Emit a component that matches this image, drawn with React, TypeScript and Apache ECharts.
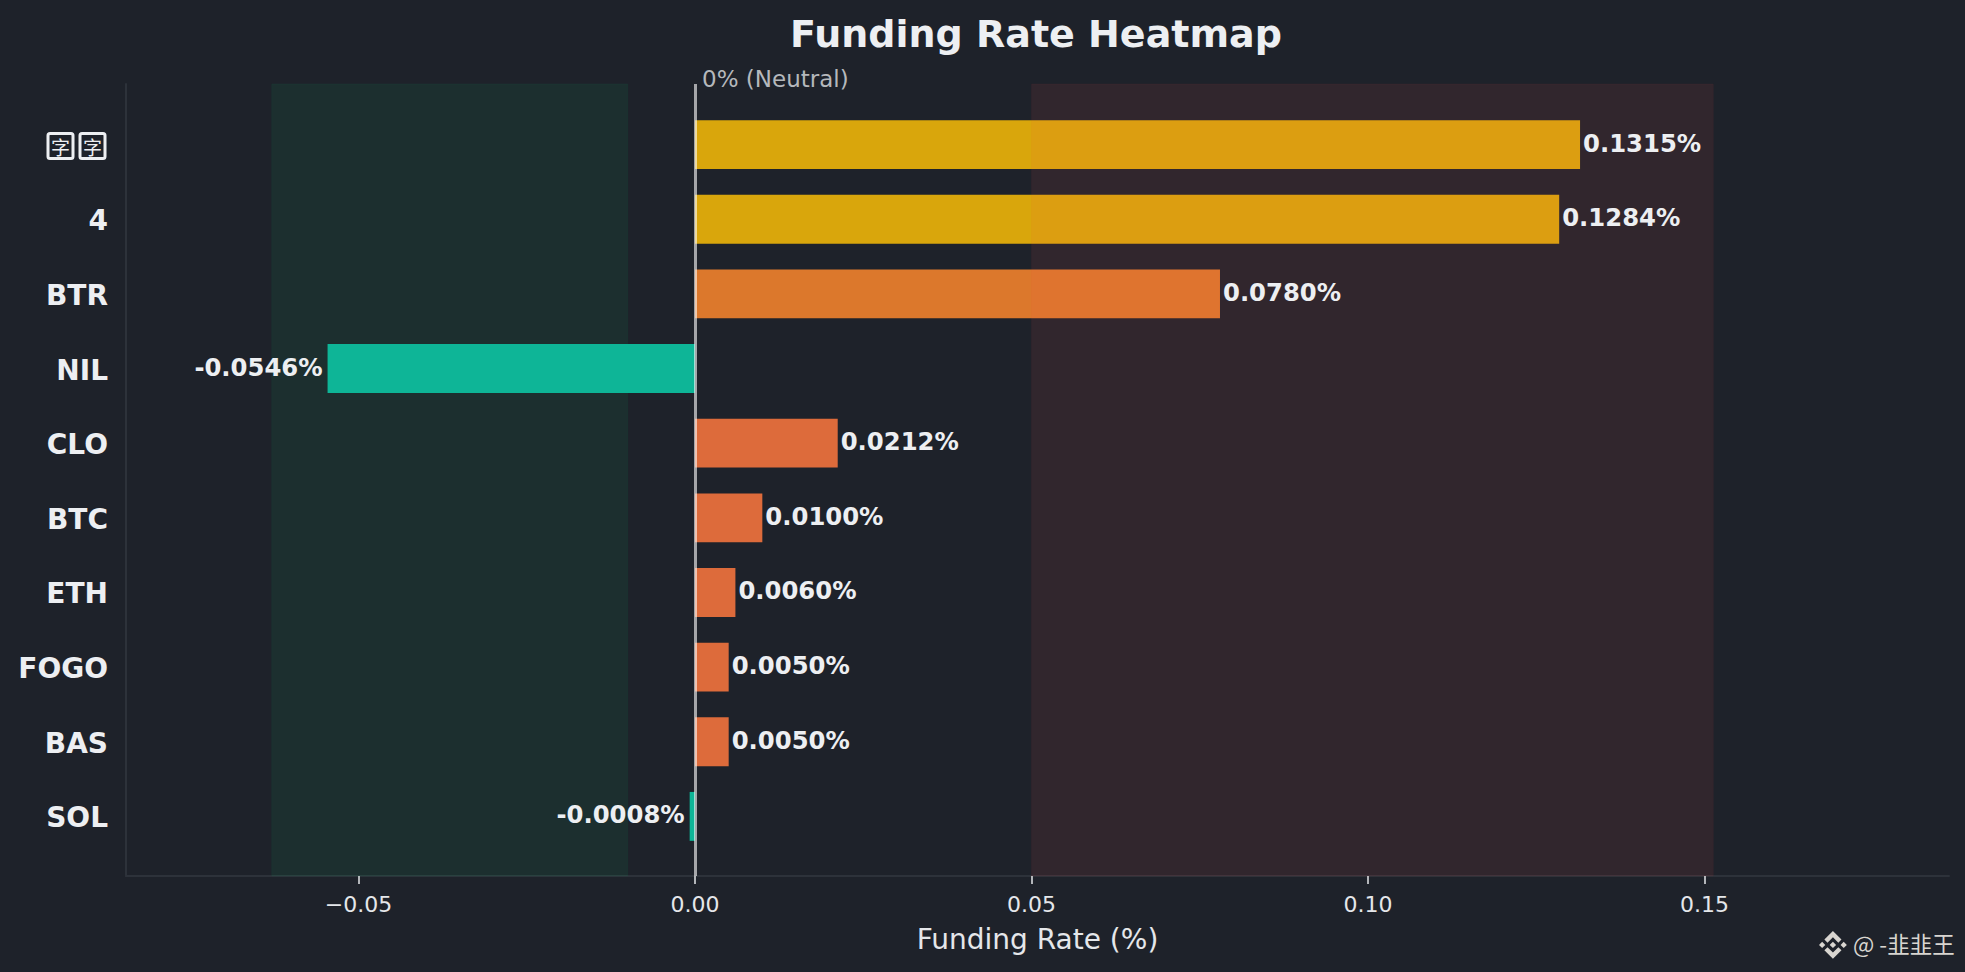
import React, { useEffect, useRef } from "react";
import * as echarts from "echarts";

const categories = ["字字", "4", "BTR", "NIL", "CLO", "BTC", "ETH", "FOGO", "BAS", "SOL"];
const rates = [0.1315, 0.1284, 0.078, -0.0546, 0.0212, 0.01, 0.006, 0.005, 0.005, -0.0008];
const barColors = ["#D9A60C", "#D9A60C", "#DC782C", "#0EB597", "#DD6B3B", "#DD6B3B", "#DD6B3B", "#DD6B3B", "#DD6B3B", "#0EB597"];
const xTicks = [-0.05, 0, 0.05, 0.1, 0.15];
const greenZone = [-0.0629, -0.01];
const redZone = [0.05, 0.1513];
const xMin = -0.08455;
const xMax = 0.18632;

const FONT = "'DejaVu Sans'";
const BINANCE =
  "M38.73 53.2L63.3 28.63l24.59 24.59 14.3-14.3L63.3 0 24.43 38.9zM0 63.3l14.3-14.3 14.3 14.3-14.3 14.3zM38.73 73.41L63.3 97.98l24.59-24.59 14.31 14.29-.01.01L63.3 126.61 24.43 87.73l-.02-.02zM98.01 63.31l14.3-14.3 14.3 14.3-14.3 14.3zM77.8 63.3L63.3 48.8 52.58 59.52l-1.23 1.23-2.54 2.54-.02.02 14.51 14.5 14.5-14.5z";
echarts.graphic.registerShape("binanceLogo", echarts.graphic.extendPath(BINANCE, {}));

const fmtTick = (v: number) => (v < 0 ? "\u2212" : "") + Math.abs(v).toFixed(2);

export default function App() {
  const ref = useRef<HTMLDivElement>(null);
  useEffect(() => {
    const chart = echarts.init(ref.current!, undefined, { renderer: "svg" });
    const gridLeft = 126;
    const gridRight = 16;
    chart.setOption({
      animation: false,
      backgroundColor: "#1E222A",
      title: {
        text: "Funding Rate Heatmap",
        left: 1031,
        top: 29,
        textAlign: "center",
        textVerticalAlign: "middle",
        textStyle: { color: "#EDEFF2", fontFamily: FONT, fontWeight: "bold", fontSize: 38 },
      },
      grid: [
        { left: gridLeft, right: gridRight, top: 84, bottom: 96 },
        { left: gridLeft, right: gridRight, top: 107.3, bottom: 118.3 },
      ],
      xAxis: [
        {
          type: "value",
          gridIndex: 0,
          min: xMin,
          max: xMax,
          splitLine: { show: false },
          axisLine: { show: true, onZero: false, lineStyle: { color: "#2D323A", width: 2 } },
          axisTick: { show: true, customValues: xTicks, length: 8, lineStyle: { color: "#E5E7EA", width: 1.5 } },
          axisLabel: { customValues: xTicks, formatter: fmtTick, color: "#E5E7EA", fontFamily: FONT, fontSize: 22, margin: 17 },
          name: "Funding Rate (%)",
          nameLocation: "middle",
          nameGap: 49,
          nameTextStyle: { color: "#E5E7EA", fontFamily: FONT, fontSize: 28 },
        },
        { type: "value", gridIndex: 1, min: xMin, max: xMax, show: false, splitLine: { show: false } },
      ],
      yAxis: [
        {
          type: "value",
          gridIndex: 0,
          min: 0,
          max: 1,
          splitLine: { show: false },
          axisLine: { show: true, onZero: false, lineStyle: { color: "#2D323A", width: 2 } },
          axisTick: { show: false },
          axisLabel: { show: false },
        },
        {
          type: "category",
          gridIndex: 1,
          inverse: true,
          data: categories,
          axisLine: { show: false },
          axisTick: { show: false },
          axisLabel: {
            margin: 18,
            padding: [3, 0, 0, 0],
            color: "#EDEFF2",
            fontFamily: FONT,
            fontWeight: "bold",
            fontSize: 28,
            formatter: (v: string) =>
              /^[\u4e00-\u9fff]+$/.test(v) ? v.split("").map((c) => `{t|${c}}`).join("{g|}") + "{e|}" : v,
            rich: {
              t: {
                fontFamily: "'Noto Sans CJK SC'",
                fontSize: 19,
                fontWeight: "normal",
                color: "#EDEFF2",
                width: 25,
                height: 25,
                align: "center",
                verticalAlign: "middle",
                borderColor: "#EDEFF2",
                borderWidth: 3,
                borderRadius: 2,
              },
              g: { width: 7 },
              e: { width: 3 },
            },
          },
        },
      ],
      series: [
        {
          type: "bar",
          name: "Funding Rate",
          xAxisIndex: 1,
          yAxisIndex: 1,
          z: 2,
          barWidth: "65.5%",
          data: rates.map((v, i) => ({ value: v, itemStyle: { color: barColors[i] } })),
        },
        {
          type: "line",
          name: "green zone",
          xAxisIndex: 0,
          yAxisIndex: 0,
          data: [],
          silent: true,
          markArea: {
            silent: true,
            z: 1,
            data: [
              [
                { xAxis: greenZone[0], itemStyle: { color: "rgba(14,203,110,0.08)", borderColor: "rgba(14,203,110,0.05)", borderWidth: 1 } },
                { xAxis: greenZone[1] },
              ],
            ],
          },
        },
        {
          type: "line",
          name: "red zone",
          xAxisIndex: 0,
          yAxisIndex: 0,
          data: [],
          silent: true,
          markArea: {
            silent: true,
            z: 3,
            data: [
              [
                { xAxis: redZone[0], itemStyle: { color: "rgba(252,78,86,0.085)", borderColor: "rgba(252,78,86,0.04)", borderWidth: 1 } },
                { xAxis: redZone[1] },
              ],
            ],
          },
          markLine: {
            silent: true,
            z: 4,
            symbol: "none",
            lineStyle: { color: "rgba(255,255,255,0.6)", width: 3, type: "solid" },
            label: {
              show: true,
              position: "end",
              formatter: "0% (Neutral)",
              align: "left",
              verticalAlign: "middle",
              offset: [7, 0],
              color: "#B5B8BC",
              fontFamily: FONT,
              fontSize: 23,
            },
            data: [{ xAxis: 0 }],
          },
        },
        {
          type: "bar",
          name: "labels",
          xAxisIndex: 1,
          yAxisIndex: 1,
          z: 6,
          barWidth: "65.5%",
          barGap: "-100%",
          silent: true,
          itemStyle: { color: "rgba(0,0,0,0)" },
          data: rates.map((v) => ({
            value: v,
            label: {
              show: true,
              position: v < 0 ? "left" : "right",
              distance: v < 0 ? 5 : 3,
              offset: [0, -1.5],
              formatter: `${v.toFixed(4)}%`,
              color: "#EDEFF2",
              fontFamily: FONT,
              fontWeight: "bold",
              fontSize: 24.3,
            },
          })),
        },
      ],
      graphic: [
        {
          type: "binanceLogo",
          x: 1819,
          y: 931,
          scaleX: 0.22,
          scaleY: 0.22,
          style: { fill: "#D8D5D0" },
        },
        {
          type: "text",
          x: 1853,
          y: 943,
          style: {
            text: "@ -韭韭王",
            fill: "#D8D5D0",
            fontFamily: "'Noto Sans CJK SC'",
            fontSize: 22.5,
            verticalAlign: "middle",
          },
        },
      ],
    });
    return () => chart.dispose();
  }, []);
  return <div ref={ref} style={{ position: "absolute", left: 0, top: 0, width: 1965, height: 972 }} />;
}
